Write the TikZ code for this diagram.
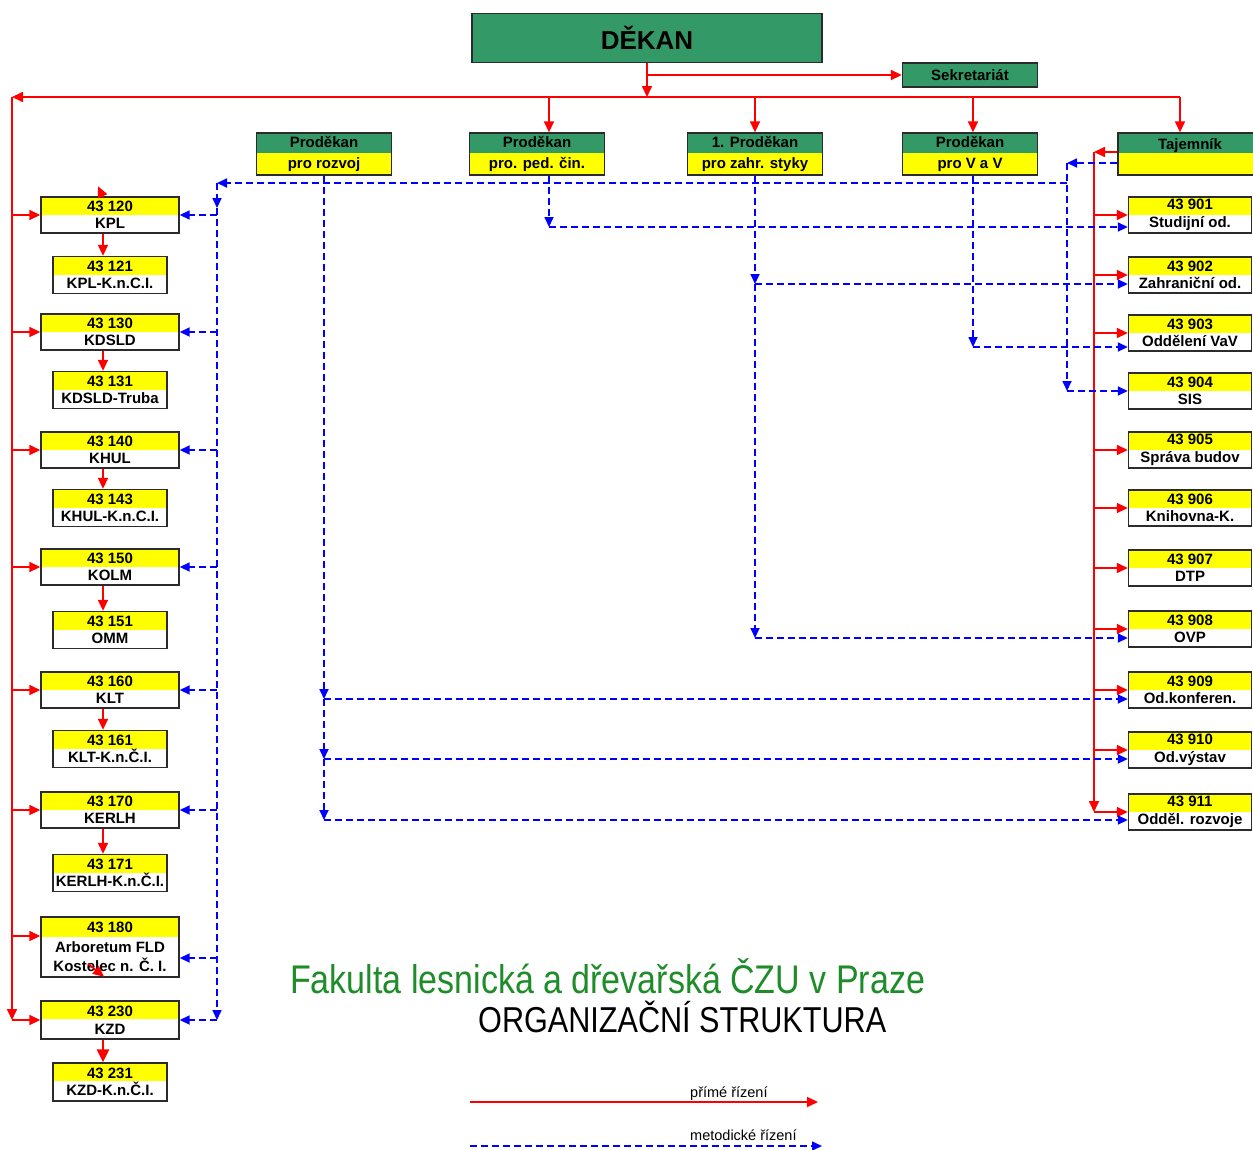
\documentclass[tikz,border=0pt]{standalone}
\usepackage{fontspec}
\setmainfont{Liberation Sans}
\newfontfamily\narrowfont[FakeStretch=0.85]{Liberation Sans}
\usetikzlibrary{arrows.meta,calc}
\definecolor{grn}{HTML}{339966}
\definecolor{ylw}{HTML}{FFFF00}
\definecolor{rd}{HTML}{FF0000}
\definecolor{bl}{HTML}{0000FF}
\definecolor{ttl}{RGB}{30,140,40}
\definecolor{brd}{HTML}{2B2B2B}
\tikzset{
  boxtxt/.style={font=\fontsize{15}{17.5}\selectfont\bfseries, align=center, inner sep=0pt},
  ubox/.style={draw=brd, line width=1.4pt, fill=white, boxtxt,
    path picture={\fill[ylw] (path picture bounding box.north west) rectangle ([yshift=-#1]path picture bounding box.north east);}},
  mainbox/.style={ubox=18pt, minimum width=138pt, minimum height=36pt},
  subbox/.style={ubox=18pt, minimum width=114pt, minimum height=37pt},
  rightbox/.style={ubox=18pt, minimum width=123pt, minimum height=36pt},
  prodbox/.style={draw=brd, line width=1.4pt, fill=ylw, align=center, inner sep=0pt,
    font=\fontsize{15}{20.5}\selectfont\bfseries,
    minimum width=135pt, minimum height=42pt,
    path picture={\fill[grn] (path picture bounding box.north west) rectangle ([yshift=-20pt]path picture bounding box.north east);}},
  greenbox/.style={draw=brd, line width=1.4pt, fill=grn, inner sep=0pt, font=\bfseries},
  redln/.style={draw=rd, line width=1.7pt},
  redarr/.style={redln, -{Triangle[length=11pt,width=10pt]}},
  bluln/.style={draw=bl, line width=1.7pt, dash pattern=on 7pt off 4pt},
  bluarr/.style={bluln, -{Triangle[length=10pt,width=9pt]}},
}
\begin{document}
\begin{tikzpicture}[x=1pt,y=-1pt]
\useasboundingbox (0,0) rectangle (1253,1149);
\fill[white] (0,0) rectangle (1253,1149);

% top boxes
\node[greenbox, minimum width=350pt, minimum height=49pt, font=\fontsize{26}{28}\selectfont\bfseries] (dekan) at (647,38) {DĚKAN};
\node[greenbox, minimum width=135pt, minimum height=24pt, font=\fontsize{15}{17}\selectfont\bfseries] (sek) at (970,75) {Sekretariát};

\node[prodbox] (prR) at (324,154) {Proděkan\\pro rozvoj};
\node[prodbox] (prP) at (537,154) {Proděkan\\pro. ped. čin.};
\node[prodbox] (pr1) at (755,154) {1. Proděkan\\pro zahr. styky};
\node[prodbox] (prV) at (970,154) {Proděkan\\pro V a V};
\node[prodbox, minimum width=144pt] (taj) at (1190,154) {Tajemník\\~};

% left column
\node[mainbox] (n120) at (110,215) {43 120\\KPL};
\node[subbox] (n121) at (110,275) {43 121\\KPL-K.n.C.I.};
\node[mainbox] (n130) at (110,332) {43 130\\KDSLD};
\node[subbox] (n131) at (110,390) {43 131\\KDSLD-Truba};
\node[mainbox] (n140) at (110,450) {43 140\\KHUL};
\node[subbox] (n143) at (110,508) {43 143\\KHUL-K.n.C.I.};
\node[mainbox] (n150) at (110,567) {43 150\\KOLM};
\node[subbox] (n151) at (110,630) {43 151\\OMM};
\node[mainbox] (n160) at (110,690) {43 160\\KLT};
\node[subbox] (n161) at (110,749) {43 161\\KLT-K.n.Č.I.};
\node[mainbox] (n170) at (110,810) {43 170\\KERLH};
\node[subbox] (n171) at (110,873) {43 171\\KERLH-K.n.Č.I.};
\node[ubox=20pt, minimum width=138pt, minimum height=60pt, font=\fontsize{15}{19.5}\selectfont\bfseries] (n180) at (110,947) {43 180\\Arboretum FLD\\Kostelec n. Č. I.};
\node[mainbox, minimum height=38pt] (n230) at (110,1020) {43 230\\KZD};
\node[subbox, minimum height=38pt] (n231) at (110,1082) {43 231\\KZD-K.n.Č.I.};

% right column
\node[rightbox] (n901) at (1190,215) {43 901\\Studijní od.};
\node[rightbox] (n902) at (1190,275) {43 902\\Zahraniční od.};
\node[rightbox] (n903) at (1190,333) {43 903\\Oddělení VaV};
\node[rightbox] (n904) at (1190,391) {43 904\\SIS};
\node[rightbox] (n905) at (1190,450) {43 905\\Správa budov};
\node[rightbox] (n906) at (1190,508) {43 906\\Knihovna-K.};
\node[rightbox] (n907) at (1190,568) {43 907\\DTP};
\node[rightbox] (n908) at (1190,629) {43 908\\OVP};
\node[rightbox] (n909) at (1190,690) {43 909\\Od.konferen.};
\node[rightbox] (n910) at (1190,750) {43 910\\Od.výstav};
\node[rightbox] (n911) at (1190,812) {43 911\\Odděl. rozvoje};

% coordinates
\coordinate (lv) at (12,97);
\coordinate (hR) at (1180,97);
\coordinate (rv) at (1094,152);
\coordinate (tv) at (1067,163);
\coordinate (bv) at (217,183);
\coordinate (bvA) at (217,208);
\coordinate (pPs) at ($(prP.south)+(12,0)$);
\coordinate (pVs) at ($(prV.south)+(3,0)$);
\coordinate (r180) at ($(n180.west)+(0,-11)$);
\coordinate (b180) at ($(n180.east)+(0,11)$);
\coordinate (b901) at ($(n901.west)+(0,12)$);
\coordinate (b902) at ($(n902.west)+(0,9)$);
\coordinate (b903) at ($(n903.west)+(0,14)$);
\coordinate (b908) at ($(n908.west)+(0,9)$);
\coordinate (b909) at ($(n909.west)+(0,9)$);
\coordinate (b910) at ($(n910.west)+(0,9)$);
\coordinate (b911) at ($(n911.west)+(0,8)$);

% red: direct management
\draw[redarr] (dekan.south) -- (dekan.south |- lv);
\draw[redarr] (dekan.south |- sek.west) -- (sek.west);
\draw[redarr] (hR) -- (lv);
\draw[redarr] (pPs |- lv) -- (pPs |- prP.north);
\draw[redarr] (pr1.north |- lv) -- (pr1.north);
\draw[redarr] (pVs |- lv) -- (pVs |- prV.north);
\draw[redarr] (hR) -- (hR |- taj.north);
\draw[redarr] (lv) -- (lv |- n230.west);
\foreach \n in {120,130,140,150,160,170,230}
  \draw[redarr] (lv |- n\n.west) -- (n\n.west);
\draw[redarr] (lv |- r180) -- (r180);
\foreach \a/\b in {120/121,130/131,140/143,150/151,160/161,170/171}
  \draw[redarr] ([xshift=-7pt]n\a.south) -- ([xshift=-7pt]n\b.north);
\draw[draw=rd, line width=2.6pt, -{Triangle[length=13pt,width=12pt]}] ([xshift=-7pt]n230.south) -- ([xshift=-7pt]n231.north);
\draw[redarr] ($(taj.west)+(0,-2)$) -- (rv);
\draw[redarr] (rv) -- (rv |- n911.west);
\foreach \n in {901,902,903,905,906,907,908,909,910,911}
  \draw[redarr] (rv |- n\n.west) -- (n\n.west);

% blue: methodical management
\draw[bluarr] ($(taj.west)+(0,9)$) -- (tv);
\draw[bluarr] (tv) -- (tv |- n904.west);
\draw[bluarr] (tv |- n904.west) -- (n904.west);
\draw[bluarr] (tv |- bv) -- (bv);
\draw[bluarr] (bv) -- (bvA);
\draw[bluarr] (bvA) -- (bv |- n230.east);
\foreach \n in {120,130,140,150,160,170,230}
  \draw[bluarr] (bv |- n\n.east) -- (n\n.east);
\draw[bluarr] (bv |- b180) -- (b180);

\draw[bluarr] (pPs) -- (pPs |- b901);
\draw[bluarr] (pPs |- b901) -- (b901);
\draw[bluarr] (pr1.south) -- (pr1.south |- b902);
\draw[bluarr] (pr1.south |- b902) -- (pr1.south |- b908);
\draw[bluarr] (pr1.south |- b902) -- (b902);
\draw[bluarr] (pr1.south |- b908) -- (b908);
\draw[bluarr] (pVs) -- (pVs |- b903);
\draw[bluarr] (pVs |- b903) -- (b903);
\draw[bluarr] (prR.south) -- (prR.south |- b909);
\draw[bluarr] (prR.south |- b909) -- (prR.south |- b910);
\draw[bluarr] (prR.south |- b910) -- (prR.south |- b911);
\draw[bluarr] (prR.south |- b909) -- (b909);
\draw[bluarr] (prR.south |- b910) -- (b910);
\draw[bluarr] (prR.south |- b911) -- (b911);

% stray arrowheads as in the original
\coordinate (s1a) at ($(n120.north)+(-7,1)$);
\coordinate (s1b) at ($(n120.north)+(-12,-10)$);
\draw[redarr] (s1a) -- (s1b);
\coordinate (s2a) at ($(n180.south)+(-22,-14)$);
\coordinate (s2b) at ($(n180.south)+(-6,-1)$);
\draw[redarr] (s2a) -- (s2b);

% titles
\node[anchor=base west, inner sep=0pt, text=ttl, font=\narrowfont\fontsize{40}{44}\selectfont] (t1) at (290,993) {Fakulta lesnická a dřevařská ČZU v Praze};
\node[anchor=base west, inner sep=0pt, font=\narrowfont\fontsize{36}{40}\selectfont] (t2) at (478,1032) {ORGANIZAČNÍ STRUKTURA};

% legend
\coordinate (lgA) at (470,1102);
\coordinate (lgB) at (818,1102);
\coordinate (lgC) at (470,1146);
\coordinate (lgD) at (822,1146);
\draw[redarr] (lgA) -- (lgB);
\draw[bluarr] (lgC) -- (lgD);
\node[anchor=base west, inner sep=0pt, font=\fontsize{14.5}{17}\selectfont] (lg1) at (690,1097) {přímé řízení};
\node[anchor=base west, inner sep=0pt, font=\fontsize{14.5}{17}\selectfont] (lg2) at (690,1140) {metodické řízení};
\end{tikzpicture}
\end{document}
